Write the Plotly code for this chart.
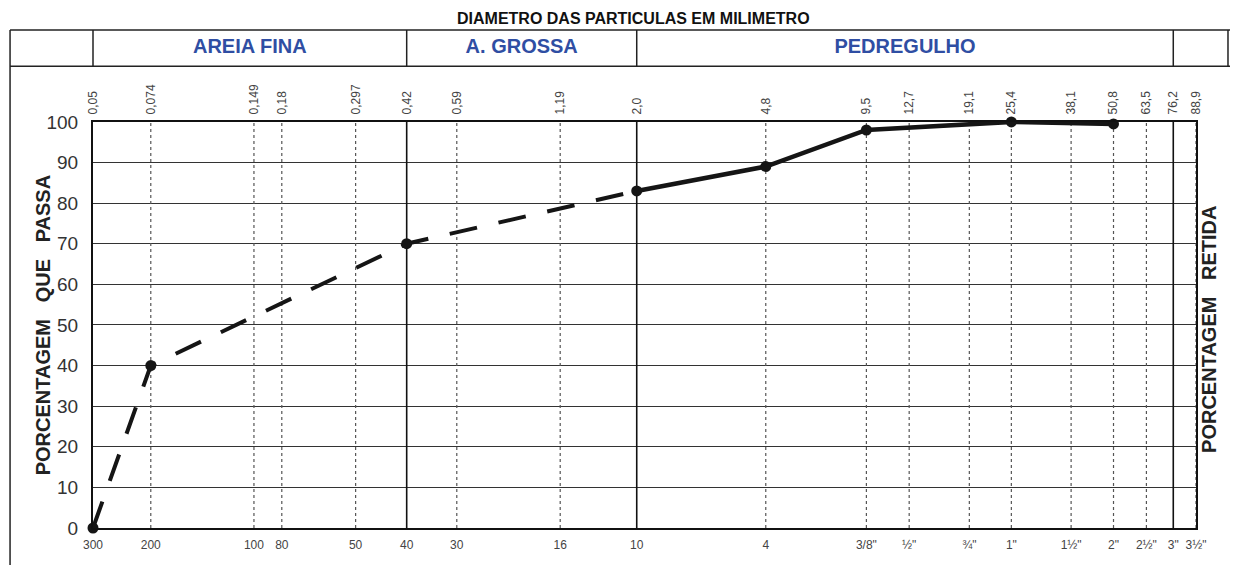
import math
import plotly.graph_objects as go

# diametro das particulas (mm) e numero da peneira correspondente
diametros = [0.05, 0.074, 0.149, 0.18, 0.297, 0.42, 0.59, 1.19, 2.0, 4.8,
             9.5, 12.7, 19.1, 25.4, 38.1, 50.8, 63.5, 76.2, 88.9]
rotulos_mm = ["0,05", "0,074", "0,149", "0,18", "0,297", "0,42", "0,59", "1,19", "2,0", "4,8",
              "9,5", "12,7", "19,1", "25,4", "38,1", "50,8", "63,5", "76,2", "88,9"]
peneiras = ["300", "200", "100", "80", "50", "40", "30", "16", "10", "4",
            "3/8\"", "½\"", "¾\"", "1\"", "1½\"", "2\"", "2½\"", "3\"", "3½\""]

# limites das faixas (mm)
limites = [0.42, 2.0, 76.2]
faixas = ["AREIA FINA", "A. GROSSA", "PEDREGULHO"]

# curva granulometrica (% que passa)
curva_mm = [0.05, 0.074, 0.42, 2.0, 4.8, 9.5, 25.4, 50.8]
curva_passa = [0, 40, 70, 83, 89, 98, 100, 99.5]
n_tracejado = 4  # pontos ligados por linha tracejada

FONTE = "Arial, Liberation Sans, sans-serif"
AZUL = "#2f4ea3"
INVIS = "rgba(0,0,0,0)"

fig = go.Figure()

# linhas verticais das peneiras
for d in diametros[1:]:
    cheia = d in limites
    fig.add_trace(go.Scatter(
        x=[d, d], y=[0, 100], mode="lines", hoverinfo="skip",
        line=dict(color="#111" if cheia else "#555",
                  width=1.6 if cheia else 1.2,
                  dash="solid" if cheia else "3px,3px")))

# curva: trecho tracejado e trecho cheio
fig.add_trace(go.Scatter(
    x=curva_mm[:n_tracejado], y=curva_passa[:n_tracejado], mode="lines",
    line=dict(color="#151515", width=4, dash="28px,22px")))
fig.add_trace(go.Scatter(
    x=curva_mm[n_tracejado - 1:], y=curva_passa[n_tracejado - 1:], mode="lines",
    line=dict(color="#151515", width=4.5)))
fig.add_trace(go.Scatter(
    x=curva_mm, y=curva_passa, mode="markers", cliponaxis=False,
    marker=dict(color="#151515", size=11)))

# eixo superior (mm)
fig.add_trace(go.Scatter(
    x=[diametros[0], diametros[-1]], y=[0, 0], xaxis="x2", mode="lines",
    line=dict(width=0), hoverinfo="skip"))

# faixa de cabecalho
bordas = [diametros[0]] + limites
for d in limites:
    fig.add_trace(go.Scatter(
        x=[d, d], y=[0, 1], xaxis="x3", yaxis="y3", mode="lines",
        hoverinfo="skip", line=dict(color="#222", width=1.5)))
for i, nome in enumerate(faixas):
    fig.add_trace(go.Scatter(
        x=[math.sqrt(bordas[i] * bordas[i + 1])], y=[0.5], xaxis="x3", yaxis="y3",
        mode="text", text=[nome], hoverinfo="skip",
        textfont=dict(family=FONTE, size=20, color=AZUL, weight="bold")))

faixa_x = [math.log10(diametros[0]), math.log10(diametros[-1])]
topo_plot = 0.781
cab = (0.888, 0.9577)

fig.update_layout(
    width=1238, height=565,
    margin=dict(l=85, r=50, t=0, b=45),
    paper_bgcolor="white", plot_bgcolor="white",
    showlegend=False,
    font=dict(family=FONTE, color="#333"),
    xaxis=dict(type="log", range=faixa_x, tickvals=diametros, ticktext=peneiras,
               tickangle=0, tickfont=dict(size=12, color="#444"), automargin=False,
               showgrid=False, zeroline=False, ticks="outside", ticklen=5, tickcolor=INVIS,
               showline=True, linecolor="#111", linewidth=2, mirror=True),
    xaxis2=dict(type="log", overlaying="x", side="top", matches="x", anchor="y",
                tickvals=diametros, ticktext=rotulos_mm, tickangle=-90, automargin=False,
                tickfont=dict(size=12, color="#444"), showgrid=False,
                ticks="outside", ticklen=4, tickcolor=INVIS),
    xaxis3=dict(type="log", matches="x", anchor="y3", visible=False),
    yaxis=dict(domain=[0, topo_plot], range=[0, 100], tickvals=list(range(0, 101, 10)),
               tickfont=dict(size=19, color="#333"), showgrid=True, automargin=False,
               gridcolor="#333", gridwidth=1, zeroline=False,
               ticks="outside", ticklen=9, tickcolor=INVIS,
               showline=True, linecolor="#111", linewidth=2, mirror=True),
    yaxis3=dict(domain=list(cab), range=[0, 1], anchor="x3", visible=False),
    shapes=[
        dict(type="line", xref="paper", yref="paper", x0=-0.0752, x1=1.045,
             y0=cab[0], y1=cab[0], line=dict(color="#222", width=1.5)),
        dict(type="line", xref="paper", yref="paper", x0=-0.0752, x1=1.045,
             y0=cab[1], y1=cab[1], line=dict(color="#222", width=1.5)),
        dict(type="line", xref="paper", yref="paper", x0=-0.0752, x1=-0.0752,
             y0=-0.1, y1=cab[1], line=dict(color="#222", width=1.5)),
        dict(type="line", xref="paper", yref="paper", x0=0, x1=0,
             y0=cab[0], y1=cab[1], line=dict(color="#222", width=1.5)),
        dict(type="line", xref="paper", yref="paper", x0=1.029, x1=1.029,
             y0=cab[0], y1=cab[1], line=dict(color="#222", width=1.5)),
    ],
    annotations=[
        dict(text="DIAMETRO DAS PARTICULAS EM MILIMETRO", xref="paper", yref="paper",
             x=0.49, y=0.979, showarrow=False, yanchor="middle",
             font=dict(size=16, color="#111", weight="bold")),
        dict(text="PORCENTAGEM   QUE   PASSA", xref="paper", yref="paper",
             x=-0.057, y=0.39, showarrow=False, textangle=-90,
             font=dict(size=20, color="#222", weight="bold")),
        dict(text="PORCENTAGEM   RETIDA", xref="paper", yref="paper",
             x=1.0236, y=0.381, showarrow=False, textangle=-90,
             font=dict(size=20, color="#222", weight="bold")),
    ],
)

fig.write_html("out.html")
